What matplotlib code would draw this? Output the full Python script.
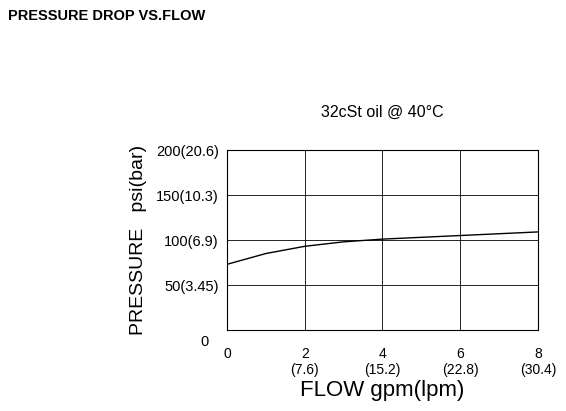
import matplotlib
matplotlib.use("Agg")
import matplotlib.pyplot as plt

plt.rcParams['font.family'] = ['Liberation Sans', 'DejaVu Sans']

flow = [0, 1, 2, 3, 4, 5, 6, 7, 8]
pressure = [73, 85, 93, 98, 101, 103, 105, 107, 109]
xticks = [0, 2, 4, 6, 8]
xlabels = ["0", "2\n(7.6)", "4\n(15.2)", "6\n(22.8)", "8\n(30.4)"]
yticks = [50, 100, 150, 200]
ylabels = ["50(3.45)", "100(6.9)", "150(10.3)", "200(20.6)"]

fig = plt.figure(figsize=(5.66, 4.11), dpi=100)
ax = fig.add_axes([0.401, 0.197, 0.5495, 0.438])
ax.plot(flow, pressure, color="black", lw=1.0)
ax.set_xlim(0, 8)
ax.set_ylim(0, 200)
ax.set_xticks(xticks)
ax.set_xticklabels(xlabels, fontsize=10, linespacing=1.2)
ax.set_yticks(yticks)
ax.set_yticklabels(ylabels, fontsize=10.5)
ax.tick_params(axis='x', length=0, pad=12)
ax.tick_params(axis='y', length=0, pad=6)
ax.grid(True, color="black", lw=0.6)
for s in ax.spines.values():
    s.set_linewidth(0.8)
ax.text(-0.06, -0.09, "0", transform=ax.transAxes, ha="right", fontsize=10.5)
ax.set_xlabel("FLOW gpm(lpm)", fontsize=16, labelpad=2)
ax.set_ylabel("PRESSURE   psi(bar)", fontsize=14, labelpad=6)
ax.set_title("32cSt oil @ 40°C", fontsize=11.5, pad=24)
fig.text(0.014, 0.962, "PRESSURE DROP VS.FLOW", fontsize=10.5, fontweight="bold", va="center")
fig.savefig("out.png", dpi=100)
